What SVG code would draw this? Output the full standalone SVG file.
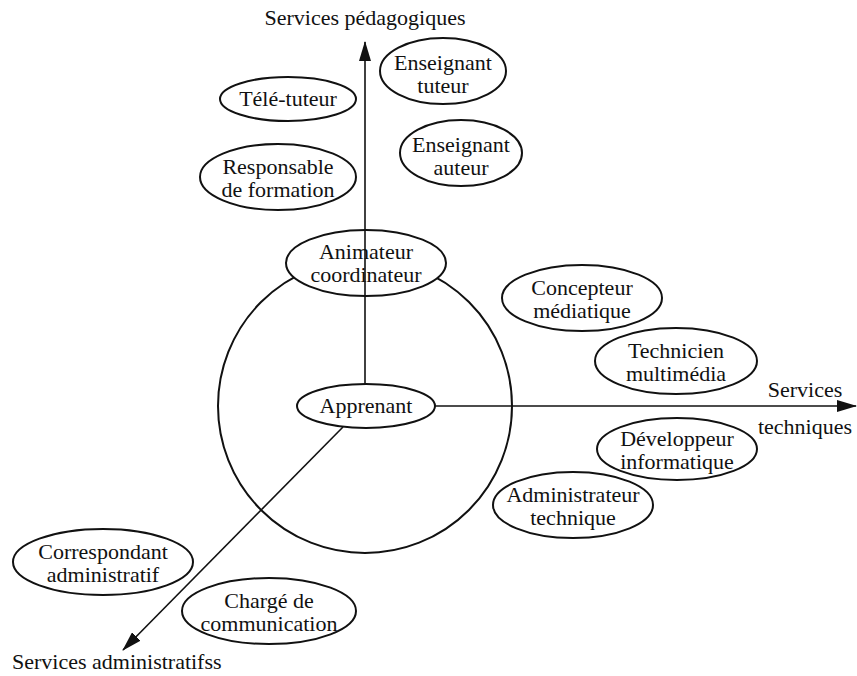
<svg xmlns="http://www.w3.org/2000/svg" width="857" height="676" viewBox="0 0 857 676">
<style>
.n{fill:#fff;stroke:#111;stroke-width:2}
.c{fill:none;stroke:#111;stroke-width:2}
.ax{stroke:#111;stroke-width:1.6;fill:none}
text{font-family:"Liberation Serif","Times New Roman",serif;font-size:22px;fill:#111;text-anchor:middle}
.l{text-anchor:start}
</style>
<defs>
<marker id="ah" markerWidth="20" markerHeight="12" refX="19" refY="6" orient="auto" markerUnits="userSpaceOnUse">
<path d="M0,0 L20,6 L0,12 Z" fill="#111"/>
</marker>
</defs>
<rect width="857" height="676" fill="#fff"/>
<circle class="c" cx="365" cy="406" r="147"/>
<g id="connectors">
<line class="ax" x1="365" y1="384" x2="365" y2="42" marker-end="url(#ah)"/>
<line class="ax" x1="435" y1="406" x2="856" y2="406" marker-end="url(#ah)"/>
<line class="ax" x1="343" y1="427" x2="123" y2="650" marker-end="url(#ah)"/>
</g>
<g id="axis-ped"><text x="365" y="25">Services pédagogiques</text></g>
<g id="axis-tech"><text x="805" y="397">Services</text><text x="805" y="434">techniques</text></g>
<g id="axis-adm"><text class="l" x="12" y="669">Services administratifss</text></g>
<g id="animateur"><ellipse class="n" cx="366" cy="263" rx="80" ry="33"/><text x="366" y="259">Animateur</text><text x="366" y="282">coordinateur</text></g>
<line class="ax" x1="365" y1="230" x2="365" y2="296"/>
<g id="apprenant"><ellipse class="n" cx="366" cy="406" rx="69" ry="22"/><text x="366" y="413">Apprenant</text></g>
<g id="teletuteur"><ellipse class="n" cx="288" cy="99" rx="68" ry="22"/><text x="288" y="106">Télé-tuteur</text></g>
<g id="enseignant-tuteur"><ellipse class="n" cx="443" cy="71" rx="63" ry="33"/><text x="443" y="70">Enseignant</text><text x="443" y="93">tuteur</text></g>
<g id="responsable"><ellipse class="n" cx="278" cy="177" rx="78" ry="33"/><text x="278" y="174">Responsable</text><text x="278" y="197">de formation</text></g>
<g id="enseignant-auteur"><ellipse class="n" cx="461" cy="153" rx="61" ry="33"/><text x="461" y="152">Enseignant</text><text x="461" y="175">auteur</text></g>
<g id="concepteur"><ellipse class="n" cx="582" cy="298" rx="80" ry="33"/><text x="582" y="295">Concepteur</text><text x="582" y="318">médiatique</text></g>
<g id="technicien"><ellipse class="n" cx="676" cy="361" rx="81" ry="33"/><text x="676" y="358">Technicien</text><text x="676" y="381">multimédia</text></g>
<g id="developpeur"><ellipse class="n" cx="677" cy="449" rx="80" ry="31"/><text x="677" y="446">Développeur</text><text x="677" y="469">informatique</text></g>
<g id="administrateur"><ellipse class="n" cx="573" cy="505" rx="80" ry="33"/><text x="573" y="502">Administrateur</text><text x="573" y="525">technique</text></g>
<g id="correspondant"><ellipse class="n" cx="103" cy="562" rx="90" ry="33"/><text x="103" y="559">Correspondant</text><text x="103" y="582">administratif</text></g>
<g id="charge"><ellipse class="n" cx="269" cy="611" rx="87" ry="33"/><text x="269" y="608">Chargé de</text><text x="269" y="631">communication</text></g>
</svg>
